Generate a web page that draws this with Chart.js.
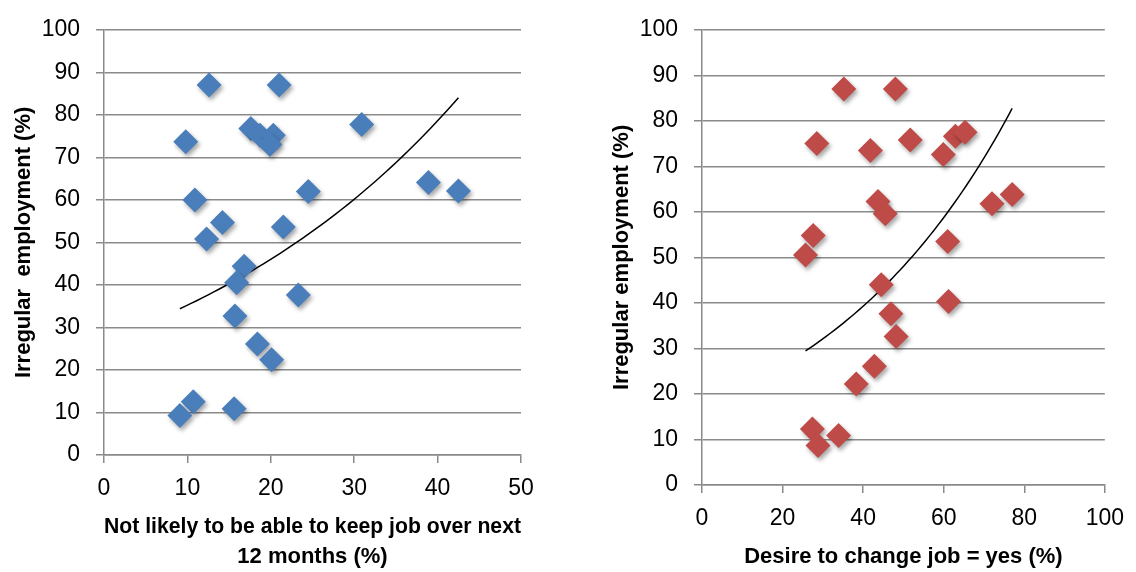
<!DOCTYPE html>
<html>
<head>
<meta charset="utf-8">
<script src="https://cdn.jsdelivr.net/npm/chart.js@4.4.1/dist/chart.umd.min.js"></script>
<style>
body { margin: 0; background: #fff; }
#left { position: absolute; left: 0; top: 0; }
#right { position: absolute; left: 580px; top: 0; }
</style>
</head>
<body>
<canvas id="left" width="560" height="572"></canvas>
<canvas id="right" width="556" height="572"></canvas>
<script>
// left panel: not likely to keep job (%) vs irregular employment (%)
var keepJob = [12.6, 21.0, 9.8, 17.6, 18.7, 20.3, 19.9, 30.9, 38.9, 42.5, 24.5, 10.9,
	14.2, 12.3, 21.5, 16.8, 15.9, 23.3, 15.7, 18.4, 20.1, 10.7, 9.1, 15.6];
var irregularLeft = [87.0, 87.0, 73.7, 76.8, 75.2, 75.2, 73.0, 77.7, 64.1, 62.1, 62.0, 60.0,
	54.7, 50.8, 53.6, 44.4, 40.5, 37.6, 32.7, 26.1, 22.4, 12.5, 9.3, 10.9];

// right panel: desire to change job (%) vs irregular employment (%)
var changeJob = [35.2, 48.0, 28.5, 41.8, 51.7, 59.9, 62.9, 65.3, 43.7, 45.5, 72.0, 77.0,
	27.6, 25.7, 61.0, 44.5, 61.2, 46.9, 48.2, 42.8, 38.3, 27.4, 28.8, 33.9];
var irregularRight = [87.0, 87.0, 75.0, 73.5, 75.8, 72.6, 76.6, 77.5, 62.3, 59.6, 61.8, 63.8,
	54.8, 50.5, 53.5, 44.0, 40.3, 37.6, 32.6, 26.1, 22.2, 12.3, 8.7, 10.9];

var yTitle = 'Irregular employment (%)';
var leftXTitle = ['Not likely to be able to keep job over next', '12 months (%)'];
var rightXTitle = 'Desire to change job = yes (%)';

var narrow = "'Liberation Sans Narrow', 'Arial Narrow', 'Liberation Sans', sans-serif";
var gridCol = '#8a8a8a';

// exponential trendline, least squares on ln(y) like the spreadsheet does
function expTrend(xs, ys) {
	var n = xs.length, sx = 0, sy = 0, sxx = 0, sxy = 0;
	for (var i = 0; i < n; i++) {
		var ly = Math.log(ys[i]);
		sx += xs[i]; sy += ly; sxx += xs[i] * xs[i]; sxy += xs[i] * ly;
	}
	var b = (n * sxy - sx * sy) / (n * sxx - sx * sx);
	var a = Math.exp((sy - b * sx) / n);
	var lo = Math.min.apply(null, xs), hi = Math.max.apply(null, xs);
	var pts = [];
	for (var k = 0; k <= 50; k++) {
		var x = lo + (hi - lo) * k / 50;
		pts.push({ x: x, y: a * Math.exp(b * x) });
	}
	return pts;
}

var markerShadow = {
	id: 'markerShadow',
	beforeDatasetDraw: function(chart, args) {
		if (args.index !== 0) return;
		var c = chart.ctx;
		c.save();
		c.shadowColor = 'rgba(0,0,0,0.35)';
		c.shadowBlur = 4;
		c.shadowOffsetX = 2;
		c.shadowOffsetY = 3;
	},
	afterDatasetDraw: function(chart, args) {
		if (args.index !== 0) return;
		chart.ctx.restore();
	}
};

function disegna(id, xs, ys, color, xMax, xStep, xTitle, cfg) {
	var pts = [];
	for (var i = 0; i < xs.length; i++) pts.push({ x: xs[i], y: ys[i] });
	new Chart(document.getElementById(id), {
		type: 'scatter',
		data: {
			datasets: [{
				data: pts,
				pointStyle: 'rectRot',
				pointRadius: 12.5,
				backgroundColor: color,
				borderColor: color,
				borderWidth: 0
			}, {
				data: expTrend(xs, ys),
				showLine: true,
				pointRadius: 0,
				borderColor: '#000',
				borderWidth: 1.5,
				fill: false
			}]
		},
		options: {
			responsive: false,
			animation: false,
			layout: { padding: { top: cfg.top, right: cfg.right, left: 0, bottom: 0 } },
			plugins: { legend: { display: false }, tooltip: { enabled: false } },
			scales: {
				x: {
					type: 'linear', min: 0, max: xMax,
					ticks: { stepSize: xStep, color: '#000', padding: 12, maxRotation: 0,
						font: { family: narrow, size: 23 } },
					grid: { drawOnChartArea: false, color: gridCol, lineWidth: 1.5, tickLength: 8 },
					border: { color: gridCol, width: 1.5 },
					title: { display: true, text: xTitle, color: '#000',
						font: { family: narrow, size: 22, weight: 'bold', lineHeight: 1.36 },
						padding: { top: cfg.xtPad, bottom: 0 } },
					afterFit: function(s) { s.height = cfg.xh; }
				},
				y: {
					min: 0, max: 100,
					ticks: { stepSize: 10, color: '#000', padding: 16,
						font: { family: narrow, size: 23 } },
					grid: { color: gridCol, lineWidth: 1.5, tickLength: 8 },
					border: { color: gridCol, width: 1.5 },
					title: { display: true, text: cfg.yText, color: '#000',
						font: { family: narrow, size: 22, weight: 'bold' },
						padding: { top: cfg.ytPad, bottom: 0 } },
					afterFit: function(s) { s.width = cfg.yw; }
				}
			}
		},
		plugins: [markerShadow]
	});
}

disegna('left', keepJob, irregularLeft, '#4a7ebb', 50, 10, leftXTitle,
	{ top: 27, right: 39, xh: 117, yw: 104, xtPad: 0, ytPad: 11, yText: 'Irregular  employment (%)' });
disegna('right', changeJob, irregularRight, '#be4b48', 100, 20, rightXTitle,
	{ top: 19, right: 21, xh: 87, yw: 122, xtPad: 2, ytPad: 29, yText: yTitle });
</script>
</body>
</html>
